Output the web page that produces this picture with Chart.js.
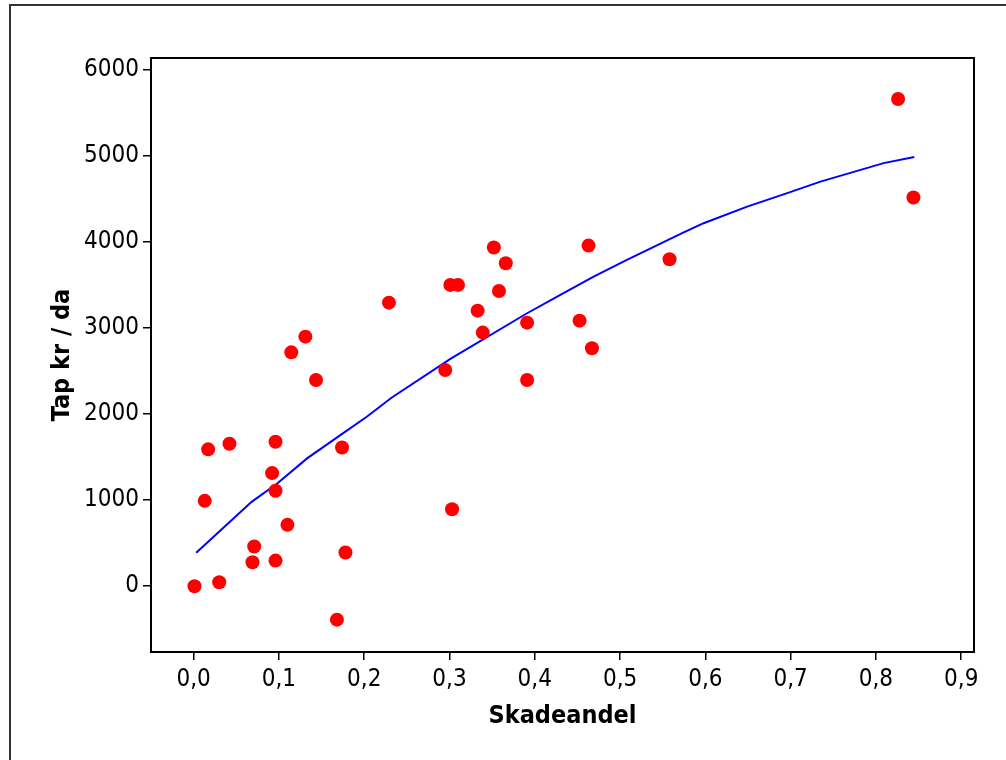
<!DOCTYPE html>
<html>
<head>
<meta charset="utf-8">
<script src="https://cdn.jsdelivr.net/npm/chart.js@4"></script>
<style>
  body { margin: 0; background: #fff; overflow: hidden; }
  #wrap { position: relative; width: 1006px; height: 760px; }
  #frame { position: absolute; left: 9px; top: 4px; width: 1100px; height: 900px; border: 2px solid #333; }
  #chart { position: absolute; left: 0; top: 0; }
</style>
</head>
<body>
<div id="wrap">
  <div id="frame"></div>
  <canvas id="chart" width="1006" height="760"></canvas>
</div>
<script>
// Observed points: Skadeandel vs Tap kr / da
const skadeandel = [0.001, 0.013, 0.017, 0.042, 0.030, 0.069, 0.071, 0.096, 0.092, 0.096, 0.096, 0.110,
  0.174, 0.178, 0.168, 0.303, 0.131, 0.1145, 0.1435, 0.229, 0.295, 0.301, 0.310, 0.352, 0.366, 0.358,
  0.333, 0.339, 0.391, 0.391, 0.4525, 0.467, 0.463, 0.558, 0.826, 0.844];
const tap = [0, 992, 1590, 1655, 47, 279, 461, 1678, 1314, 1109, 298, 713,
  1612, 391, -388, 895, 2899, 2717, 2395, 3294, 2512, 3500, 3500, 3934, 3752, 3430,
  3201, 2946, 3062, 2395, 3085, 2764, 3957, 3799, 5659, 4515];

// Fitted curve
const fitX = [0.003, 0.068, 0.098, 0.133, 0.172, 0.203, 0.232, 0.301, 0.391, 0.430, 0.469,
  0.508, 0.574, 0.598, 0.649, 0.696, 0.735, 0.809, 0.845];
const fitY = [388, 980, 1194, 1485, 1756, 1969, 2190, 2640, 3171, 3384, 3597,
  3791, 4108, 4217, 4410, 4566, 4700, 4915, 4985];

// Tick values
const xTicks = [0, 0.1, 0.2, 0.3, 0.4, 0.5, 0.6, 0.7, 0.8, 0.9];
const yTicks = [0, 1000, 2000, 3000, 4000, 5000, 6000];

const FONT = "'DejaVu Sans Condensed', 'DejaVu Sans', sans-serif";

// Draw the box around the plot area
const plotBox = {
  id: "plotBox",
  afterDraw(chart) {
    const a = chart.chartArea;
    const c = chart.ctx;
    c.save();
    c.strokeStyle = "#000";
    c.lineWidth = 2;
    c.strokeRect(a.left, a.top, a.right - a.left, a.bottom - a.top);
    c.restore();
  },
};

new Chart(document.getElementById("chart"), {
  type: "scatter",
  data: {
    datasets: [
      {
        label: "Fit",
        type: "line",
        data: fitX.map((x, i) => ({ x: x, y: fitY[i] })),
        borderColor: "#0000ff",
        borderWidth: 2,
        pointRadius: 0,
        tension: 0,
        fill: false,
        order: 1,
      },
      {
        label: "Data",
        data: skadeandel.map((x, i) => ({ x: x, y: tap[i] })),
        backgroundColor: "#ff0000",
        borderWidth: 0,
        pointRadius: 7,
        order: 0,
      },
    ],
  },
  options: {
    responsive: false,
    animation: false,
    layout: { padding: { left: 0, right: 32, top: 58, bottom: 0 } },
    plugins: {
      legend: { display: false },
      tooltip: { enabled: false },
    },
    scales: {
      x: {
        type: "linear",
        min: -0.05,
        max: 0.915,
        afterBuildTicks: (s) => { s.ticks = xTicks.map((v) => ({ value: v })); },
        afterFit: (s) => { s.height = 108; },
        border: { display: true, color: "#000", width: 2 },
        grid: { drawOnChartArea: false, drawTicks: true, tickLength: 8, color: "#000", lineWidth: 1.5 },
        ticks: {
          color: "#000",
          padding: 5,
          font: { family: FONT, size: 24 },
          callback: (v) => v.toFixed(1).replace(".", ","),
        },
        title: {
          display: true,
          text: "Skadeandel",
          color: "#000",
          font: { family: FONT, size: 25, weight: "bold" },
          padding: { top: 0, bottom: 29 },
        },
      },
      y: {
        type: "linear",
        min: -764,
        max: 6136,
        afterBuildTicks: (s) => { s.ticks = yTicks.map((v) => ({ value: v })); },
        afterFit: (s) => { s.width = 151; },
        border: { display: true, color: "#000", width: 2 },
        grid: { drawOnChartArea: false, drawTicks: true, tickLength: 8, color: "#000", lineWidth: 1.5 },
        ticks: {
          color: "#000",
          padding: 4,
          font: { family: FONT, size: 24 },
          callback: (v) => String(v),
        },
        title: {
          display: true,
          text: "Tap kr / da",
          color: "#000",
          font: { family: FONT, size: 25, weight: "bold" },
          padding: { top: 47, bottom: 0 },
        },
      },
    },
  },
  plugins: [plotBox],
});
</script>
</body>
</html>
